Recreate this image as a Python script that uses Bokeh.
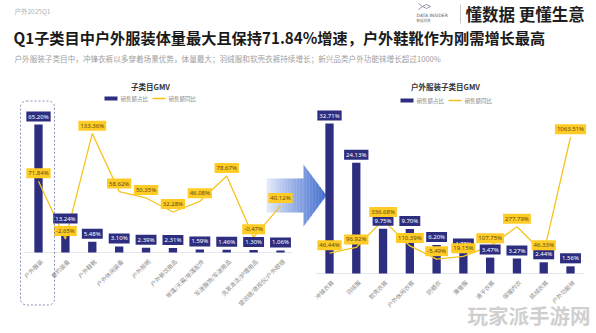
import numpy as np
from bokeh.plotting import figure
from bokeh.models import Range1d, ColumnDataSource
from bokeh.core.properties import value
from bokeh.embed import file_html
from bokeh.resources import INLINE

# ---------------- data ----------------
cats_left = ["户外服装", "垂钓装备", "户外鞋靴", "户外休闲装备", "户外照明", "户外餐饮用品",
             "帐篷/天幕/帐篷配件", "军迷服饰/军迷用品", "洗漱清洁/护理用品", "望远镜/夜视仪/户外眼镜"]
share_left = [65.20, 13.24, 5.48, 3.10, 2.39, 2.31, 1.59, 1.46, 1.30, 1.06]
growth_left = [71.84, -2.65, 133.36, 58.62, 50.35, 32.28, 46.08, 78.67, -0.47, 40.12]

cats_right = ["冲锋衣裤", "羽绒服", "软壳衣裤", "户外休闲衣裤", "防晒衣", "滑雪服",
              "速干衣裤", "保暖内衣", "抓绒衣裤", "户外功能袜"]
share_right = [32.71, 24.13, 9.75, 9.70, 6.20, 4.78, 3.47, 3.27, 2.44, 1.56]
growth_right = [46.44, 96.92, 336.68, 110.39, -5.49, 19.15, 107.75, 277.79, 46.33, 1063.51]

header_tag = "户外2025Q1"
title = "Q1子类目中户外服装体量最大且保持71.84%增速，户外鞋靴作为刚需增长最高"
subtitle = "户外服装子类目中，冲锋衣裤以多穿着场景优势，体量最大；羽绒服和软壳衣裤持续增长；新兴品类户外功能袜增长超过1000%"
slogan = "懂数据 更懂生意"
left_title = "子类目GMV"
right_title = "户外服装子类目GMV"
legend_bar = "销售额占比"
legend_line = "销售额同比"

# ---------------- style ----------------
W, H = 596, 333
NAVY = "#2d2e80"
YEL = "#f6c41c"
YEL_BOX = "#ffcc26"
YEL_TXT = "#5e4a12"
CJK = value("Noto Sans CJK SC")


def Y(py):
    return H - py


p = figure(width=W, height=H, x_range=Range1d(0, W), y_range=Range1d(0, H),
           output_backend="svg", toolbar_location=None, min_border=0,
           x_axis_location=None, y_axis_location=None)
p.grid.visible = False
p.outline_line_color = None
p.background_fill_color = "white"
p.border_fill_color = "white"

# ---------------- header ----------------
p.text(x=[14], y=[Y(10)], text=[header_tag], text_font=CJK, text_font_size="6.5px",
       text_color="#b0b0b0", text_baseline="middle")
p.text(x=[13], y=[Y(36)], text=[title], text_font=CJK, text_font_size="15.2px",
       text_font_style="bold", text_color="#1a1a1a", text_baseline="middle")
p.text(x=[14], y=[Y(58)], text=[subtitle], text_font=CJK, text_font_size="7.6px",
       text_color="#a0a0a0", text_baseline="middle")
p.text(x=[465], y=[Y(13)], text=[slogan], text_font=CJK, text_font_size="16.5px",
       text_font_style="bold", text_color="#1f1f1f", text_baseline="middle")
p.segment(x0=[460], y0=[Y(4)], x1=[460], y1=[Y(23)], line_color="#c8c8c8", line_width=1)
# logo
p.line(x=[418, 422, 426, 430, 426, 422, 418], y=[Y(3), Y(6), Y(4), Y(6), Y(8), Y(6), Y(9)],
       line_color="#7a7a9a", line_width=0.8)
p.text(x=[416], y=[Y(14.5)], text=["DATA INSIDER"], text_font=value("DejaVu Sans"),
       text_font_size="4.5px", text_color="#555577", text_baseline="middle")
p.text(x=[416], y=[Y(20)], text=["数据洞察"], text_font=CJK,
       text_font_size="3.5px", text_color="#777", text_baseline="middle")


def draw_chart(cats, share, growth, x0, x1, base_share, top_share_px, base_g, g_scale,
               title_txt, title_cx, legend_x, legend_y, baseline_x):
    n = len(cats)
    idx = list(range(n))
    smax = max(share)
    gmax = max(growth)
    sp = p.subplot(x_source=Range1d(0, n - 1), y_source=Range1d(0, smax),
                   x_target=Range1d(x0, x1), y_target=Range1d(Y(base_share), Y(top_share_px)))
    gp = p.subplot(x_source=Range1d(0, n - 1), y_source=Range1d(0, gmax),
                   x_target=Range1d(x0, x1), y_target=Range1d(Y(base_g), Y(base_g - gmax * g_scale)))
    src = ColumnDataSource(dict(i=idx, cat=cats, share=share, growth=growth,
                                slab=[f"{v:.2f}%" for v in share],
                                glab=[f"{v:.2f}%" for v in growth]))
    # baseline
    p.segment(x0=[baseline_x[0]], y0=[Y(base_share)], x1=[baseline_x[1]], y1=[Y(base_share)],
              line_color="#e6e6ee", line_width=1)
    sp.vbar(x="i", top="share", bottom=0, width=0.31, source=src, fill_color=NAVY, line_color=None)
    gp.line(x="i", y="growth", source=src, line_color=YEL, line_width=1.3)
    sp.text(x="i", y=0, text="cat", source=src, angle=np.pi / 4, text_align="right",
            text_baseline="middle", x_offset=3, y_offset=8, text_font=CJK,
            text_font_size="5.8px", text_color="#8a8a8a")
    sp.text(x="i", y="share", text="slab", source=src, text_align="center",
            text_baseline="middle", y_offset=-8, text_font=value("Noto Sans"),
            text_font_size="6px", text_color="white", background_fill_color=NAVY,
            padding=dict(x=2, y=1))
    gp.text(x="i", y="growth", text="glab", source=src, text_align="center",
            text_baseline="middle", y_offset=-8, text_font=value("Noto Sans"),
            text_font_size="6px", text_color=YEL_TXT, background_fill_color=YEL_BOX,
            padding=dict(x=2, y=1))
    # chart title and legend
    p.text(x=[title_cx], y=[Y(86)], text=[title_txt], text_font=CJK, text_font_size="7.5px",
           text_font_style="bold", text_color="#333", text_align="center", text_baseline="middle")
    lx = legend_x
    p.rect(x=[lx + 6.5], y=[Y(legend_y)], width=13, height=4, fill_color=NAVY, line_color=None)
    p.text(x=[lx + 16], y=[Y(legend_y)], text=[legend_bar], text_font=CJK, text_font_size="5.5px",
           text_color="#888", text_baseline="middle")
    p.segment(x0=[lx + 48], y0=[Y(legend_y)], x1=[lx + 61], y1=[Y(legend_y)],
              line_color=YEL, line_width=1.3)
    p.text(x=[lx + 64], y=[Y(legend_y)], text=[legend_line], text_font=CJK, text_font_size="5.5px",
           text_color="#888", text_baseline="middle")


# arrow with gradient (drawn before right chart)
def lerp(a, b, t):
    return a + (b - a) * t


c0 = np.array([232, 237, 250])
c1 = np.array([58, 104, 205])
xs_all, ys_all, cols = [], [], []
xa, xs, xt = 266.0, 303.0, 326.0
sh_top, sh_bot, hd_top, hd_bot, tip = 178.0, 212.0, 164.0, 226.0, 195.0


def top_at(x):
    return sh_top if x < xs else lerp(hd_top, tip, (x - xs) / (xt - xs))


def bot_at(x):
    return sh_bot if x < xs else lerp(hd_bot, tip, (x - xs) / (xt - xs))


edges = list(np.arange(xa, xs, 1.5)) + [xs] + list(np.arange(xs + 1.5, xt, 1.5)) + [xt]
for a, b in zip(edges[:-1], edges[1:]):
    t = ((a + b) / 2 - xa) / (xt - xa)
    c = (c0 + (c1 - c0) * t ** 0.9).astype(int)
    bb = b + 0.3
    xs_all.append([a, bb, bb, a])
    if a < xs <= b:
        ys_all.append([Y(sh_top), Y(sh_top), Y(sh_bot), Y(sh_bot)])
    else:
        ys_all.append([Y(top_at(a)), Y(top_at(min(bb, xt))), Y(bot_at(min(bb, xt))), Y(bot_at(a))])
    cols.append("#%02x%02x%02x" % tuple(c))
p.patches(xs=xs_all, ys=ys_all, fill_color=cols, line_color=None, fill_alpha=0.95)

draw_chart(cats_left, share_left, growth_left, 38, 280, 252, 124, 236.5, 0.775,
           left_title, 150, 104, 98, (23, 292))
draw_chart(cats_right, share_right, growth_right, 329, 570, 273, 123, 258, 0.114,
           right_title, 445, 400, 100, (316, 584))

# highlight box around first left bar
p.rect(x=[37], y=[Y(202.5)], width=34, height=204, fill_color=None, line_color="#6f76a8",
       line_dash="2 2", line_width=0.8, border_radius=6)

# watermark
p.text(x=[467], y=[Y(314)], text=["玩家派手游网"], text_font=CJK, text_font_size="20.5px",
       text_font_style="bold", text_color="#c9c9c9", text_alpha=0.9, text_baseline="middle")

open("out.html", "w").write(file_html(p, INLINE))
